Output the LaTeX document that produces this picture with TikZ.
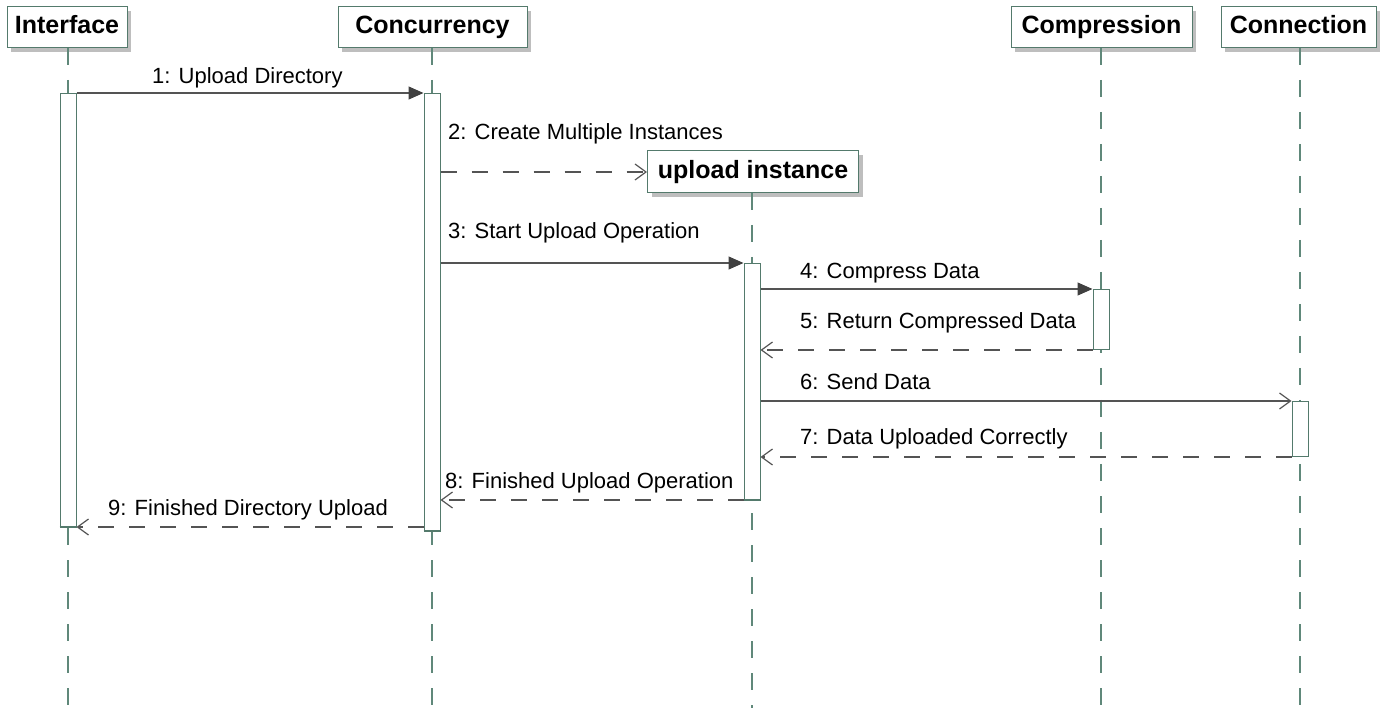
\documentclass[tikz,border=0pt]{standalone}
\usepackage{fontspec}
\setmainfont{Liberation Sans}
\usetikzlibrary{arrows.meta}
\definecolor{pborder}{RGB}{84,122,108}
\definecolor{lline}{RGB}{96,136,122}
\definecolor{msgc}{RGB}{84,84,84}
\definecolor{tipc}{RGB}{64,64,64}
\definecolor{shadowc}{RGB}{190,190,190}
\tikzset{
  part/.style={draw=pborder, line width=1pt, fill=white, inner sep=0pt,
    text height=18pt, text depth=5.5pt,
    font=\fontsize{25}{28}\selectfont\bfseries, text=black},
  lifel/.style={draw=lline, line width=1.2pt, dash pattern=on 17pt off 15pt},
  actbar/.style={draw=pborder, line width=1pt, fill=white},
  msg/.style={draw=msgc, line width=1.2pt},
  ret/.style={msg, dash pattern=on 16pt off 15pt},
  filltip/.style={-{Triangle[length=15pt,width=13pt,fill=tipc,color=tipc]}},
  opentip/.style={-{Straight Barb[length=11pt,width=16pt,line width=1.2pt,color=msgc]}},
  lbl/.style={anchor=base west, inner sep=0pt, font=\fontsize{22}{24}\selectfont, text=black}
}
\begin{document}
\begin{tikzpicture}[x=1pt,y=-1pt]
\useasboundingbox (0,0) rectangle (1390,708);
% shadows
\fill[shadowc] (11,11) rectangle (131,52);
\fill[shadowc] (342,11) rectangle (531,52);
\fill[shadowc] (1015,11) rectangle (1196,52);
\fill[shadowc] (1225,11) rectangle (1380,52);
\fill[shadowc] (652,155) rectangle (863,197);
% lifeline ends
\coordinate (lI) at (68,708);
\coordinate (lC) at (432,708);
\coordinate (lU) at (752,708);
\coordinate (lP) at (1101,708);
\coordinate (lN) at (1300,708);
% participants
\node[part, minimum width=120pt, minimum height=41pt] (I) at (67,27.5) {Interface};
\node[part, minimum width=189pt, minimum height=41pt] (C) at (432.5,27.5) {Concurrency};
\node[part, minimum width=181pt, minimum height=41pt] (P) at (1101.5,27.5) {Compression};
\node[part, minimum width=155pt, minimum height=41pt] (N) at (1298.5,27.5) {Connection};
\draw[lifel] (68,48) -- (lI);
\draw[lifel] (432,48) -- (lC);
\draw[lifel] (752,193) -- (lU);
\draw[lifel] (1101,48) -- (lP);
\draw[lifel] (1300,48) -- (lN);
% activation bars
\node[actbar, minimum width=16pt, minimum height=433pt, inner sep=0pt, anchor=north] (aI) at (68,93) {};
\node[actbar, minimum width=16pt, minimum height=437pt, inner sep=0pt, anchor=north] (aC) at (432,93) {};
\node[actbar, minimum width=16pt, minimum height=236pt, inner sep=0pt, anchor=north] (aU) at (752,263) {};
\node[actbar, minimum width=16pt, minimum height=60pt, inner sep=0pt, anchor=north] (aP) at (1101,289) {};
\node[actbar, minimum width=16pt, minimum height=55pt, inner sep=0pt, anchor=north] (aN) at (1300,401) {};
\draw[pborder, line width=2pt] (aI.south west) -- (aI.south east);
\draw[pborder, line width=2pt] (aC.south west) -- (aC.south east);
\draw[pborder, line width=2pt] (aU.south west) -- (aU.south east);
% created participant
\node[part, minimum width=211pt, minimum height=42pt] (U) at (753,172) {upload instance};
% messages
\draw[msg, filltip] (aI.north east) -- (aC.north west);
\node[lbl] (t1) at (152,84) {1: Upload Directory};
\draw[ret, opentip] (aC.east |- U.west) -- (U.west);
\node[lbl] (t2) at (448,140) {2: Create Multiple Instances};
\draw[msg, filltip] (aC.east |- aU.north) -- (aU.north west);
\node[lbl] (t3) at (448,239) {3: Start Upload Operation};
\draw[msg, filltip] (aU.east |- aP.north) -- (aP.north west);
\node[lbl] (t4) at (800,279) {4: Compress Data};
\draw[ret, opentip] (aP.south west) -- (aU.east |- aP.south);
\node[lbl] (t5) at (800,329) {5: Return Compressed Data};
\draw[msg, opentip] (aU.east |- aN.north) -- (aN.north west);
\node[lbl] (t6) at (800,390) {6: Send Data};
\draw[ret, opentip] (aN.south west) -- (aU.east |- aN.south);
\node[lbl] (t7) at (800,445) {7: Data Uploaded Correctly};
\draw[ret, opentip] (aU.south west) -- (aC.east |- aU.south);
\node[lbl] (t8) at (445,488) {8: Finished Upload Operation};
\draw[ret, opentip] (aC.west |- aI.south) -- (aI.south east);
\node[lbl] (t9) at (108,515) {9: Finished Directory Upload};
\end{tikzpicture}
\end{document}
